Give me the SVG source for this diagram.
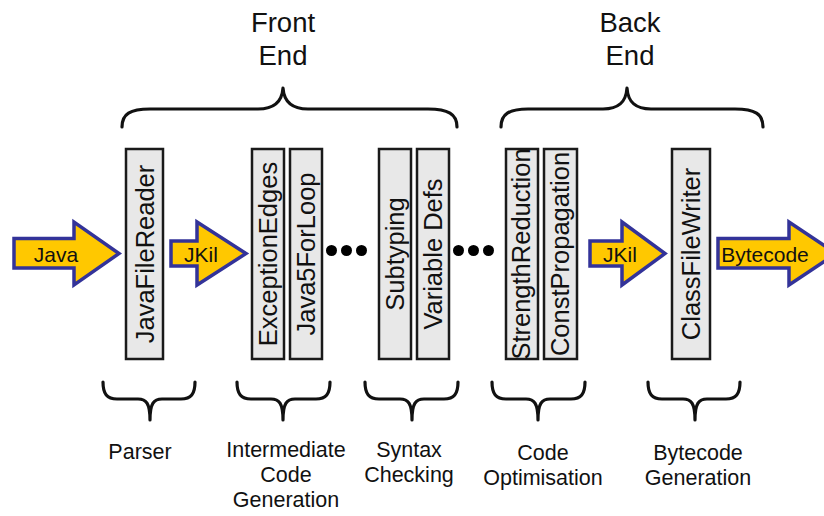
<svg xmlns="http://www.w3.org/2000/svg" width="824" height="516" viewBox="0 0 824 516">
  <style>
    text { font-family: "Liberation Sans", Arial, Helvetica, sans-serif; fill: #111; }
    .stage rect { fill: #e8e8e8; stroke: #1a1a1a; stroke-width: 2.5; }
    .stage text { font-size: 25.5px; text-anchor: middle; }
    .flow path { fill: #ffc800; stroke: #333399; stroke-width: 3.5; stroke-linejoin: miter; }
    .flow text { font-size: 21px; text-anchor: middle; }
    .brace { fill: none; stroke: #111; stroke-width: 3.2; stroke-linecap: round; stroke-linejoin: round; }
    .phase { font-size: 27.5px; text-anchor: middle; }
    .group { font-size: 21.5px; text-anchor: middle; }
    .dots circle { fill: #000; }
  </style>

  <rect width="824" height="516" fill="#fff"/>

  <!-- phase headings with their braces -->
  <g id="front-end">
    <text class="phase" x="283" y="32">Front</text>
    <text class="phase" x="283" y="65">End</text>
    <path class="brace" d="M122,127 C122,114 130,109 150,109 L258,109 C274,109 282,102 283,88 C284,102 292,109 308,109 L428,109 C448,109 457,114 457,127"/>
  </g>
  <g id="back-end">
    <text class="phase" x="630" y="32">Back</text>
    <text class="phase" x="630" y="65">End</text>
    <path class="brace" d="M501,127 C501,114 509,109 528,109 L603,109 C619,109 626,102 627,88 C628,102 635,109 651,109 L735,109 C755,109 763,114 763,127"/>
  </g>

  <!-- compiler stages -->
  <g id="java-file-reader" class="stage">
    <rect x="126" y="149" width="37" height="210"/>
    <text transform="translate(154,254) rotate(-90)">JavaFileReader</text>
  </g>
  <g id="exception-edges" class="stage">
    <rect x="252" y="149" width="32" height="210"/>
    <text transform="translate(277,254) rotate(-90)">ExceptionEdges</text>
  </g>
  <g id="java5-for-loop" class="stage">
    <rect x="290" y="149" width="32" height="210"/>
    <text transform="translate(315,254) rotate(-90)">Java5ForLoop</text>
  </g>
  <g id="subtyping" class="stage">
    <rect x="379" y="149" width="32" height="210"/>
    <text transform="translate(404,254) rotate(-90)">Subtyping</text>
  </g>
  <g id="variable-defs" class="stage">
    <rect x="417" y="149" width="32" height="210"/>
    <text transform="translate(442,254) rotate(-90)">Variable Defs</text>
  </g>
  <g id="strength-reduction" class="stage">
    <rect x="506" y="149" width="32" height="210"/>
    <text transform="translate(530,254) rotate(-90)">StrengthReduction</text>
  </g>
  <g id="const-propagation" class="stage">
    <rect x="544" y="149" width="33" height="210"/>
    <text transform="translate(569,254) rotate(-90)">ConstPropagation</text>
  </g>
  <g id="class-file-writer" class="stage">
    <rect x="672" y="149" width="38" height="210"/>
    <text transform="translate(700,254) rotate(-90)">ClassFileWriter</text>
  </g>

  <!-- elided stages -->
  <g id="ellipsis-1" class="dots">
    <circle cx="331.5" cy="250.5" r="5.5"/>
    <circle cx="346.5" cy="250.5" r="5.5"/>
    <circle cx="361.5" cy="250.5" r="5.5"/>
  </g>
  <g id="ellipsis-2" class="dots">
    <circle cx="458.5" cy="250.5" r="5.5"/>
    <circle cx="473.5" cy="250.5" r="5.5"/>
    <circle cx="488.5" cy="250.5" r="5.5"/>
  </g>

  <!-- data flowing between stages -->
  <g id="connectors" class="flow">
    <g id="flow-java">
      <path d="M14,238.5 H74 V222 L119,253.5 L74,285 V268 H14 Z"/>
      <text x="56" y="262">Java</text>
    </g>
    <g id="flow-jkil-1">
      <path d="M171,241 H197 V222 L246,253.5 L197,285 V266 H171 Z"/>
      <text x="201" y="262">JKil</text>
    </g>
    <g id="flow-jkil-2">
      <path d="M590,241 H622 V222 L665,253.5 L622,285 V266 H590 Z"/>
      <text x="620" y="262">JKil</text>
    </g>
    <g id="flow-bytecode">
      <path d="M718,238.5 H789 V222 L836,253.5 L789,285 V268 H718 Z"/>
      <text x="765" y="262">Bytecode</text>
    </g>
  </g>

  <!-- stage groupings -->
  <g id="parser">
    <path class="brace" d="M103,382 C103,394 107,399 117,399 L138,399 C146,399 150,403 150,420 C150,403 154,399 162,399 L181,399 C191,399 195,394 195,382"/>
    <text class="group" x="140" y="459">Parser</text>
  </g>
  <g id="intermediate-code-generation">
    <path class="brace" d="M237,382 C237,394 241,399 251,399 L271,399 C279,399 283,403 283,420 C283,403 287,399 295,399 L316,399 C326,399 330,394 330,382"/>
    <text class="group" x="286" y="457">Intermediate</text>
    <text class="group" x="286" y="482">Code</text>
    <text class="group" x="286" y="507">Generation</text>
  </g>
  <g id="syntax-checking">
    <path class="brace" d="M365,382 C365,394 369,399 379,399 L400,399 C408,399 412,403 412,420 C412,403 416,399 424,399 L444,399 C454,399 458,394 458,382"/>
    <text class="group" x="409" y="457">Syntax</text>
    <text class="group" x="409" y="482">Checking</text>
  </g>
  <g id="code-optimisation">
    <path class="brace" d="M492,382 C492,394 496,399 506,399 L526,399 C534,399 538,403 538,420 C538,403 542,399 550,399 L571,399 C581,399 585,394 585,382"/>
    <text class="group" x="543" y="460">Code</text>
    <text class="group" x="543" y="485">Optimisation</text>
  </g>
  <g id="bytecode-generation">
    <path class="brace" d="M648,382 C648,394 652,399 662,399 L683,399 C691,399 695,403 695,420 C695,403 699,399 707,399 L726,399 C736,399 740,394 740,382"/>
    <text class="group" x="698" y="460">Bytecode</text>
    <text class="group" x="698" y="485">Generation</text>
  </g>
</svg>
